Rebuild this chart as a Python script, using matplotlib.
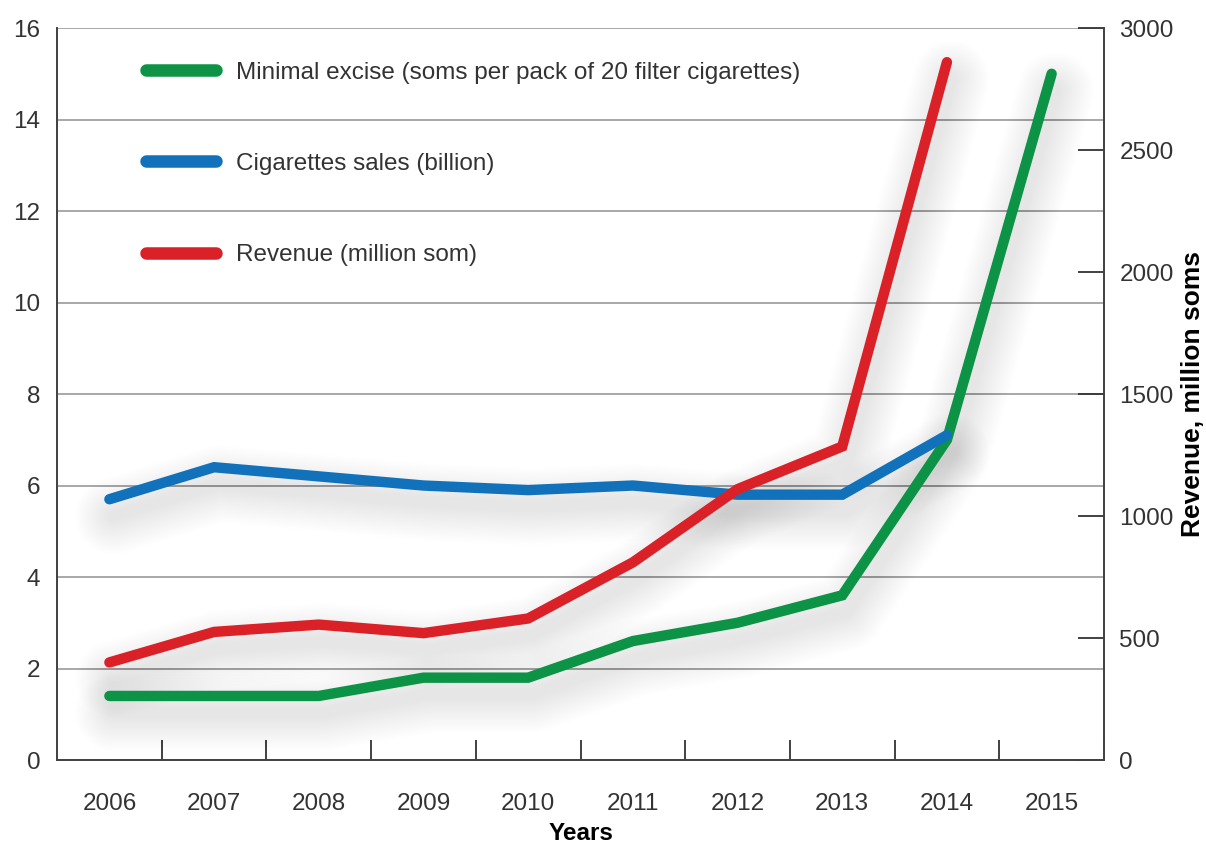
import matplotlib
matplotlib.use("Agg")
import matplotlib.pyplot as plt
import matplotlib.patheffects as pe
from matplotlib.lines import Line2D

# values per year
years = ["2006", "2007", "2008", "2009", "2010", "2011", "2012", "2013", "2014", "2015"]
excise = [1.4, 1.4, 1.4, 1.8, 1.8, 2.6, 3.0, 3.6, 7.0, 15.0]
sales = [5.7, 6.4, 6.2, 6.0, 5.9, 6.0, 5.8, 5.8, 7.1]
revenue = [400, 525, 555, 520, 580, 810, 1110, 1285, 2860]

GREEN = "#0d9345"
BLUE = "#1172bb"
RED = "#da2128"
TXT = "#333333"
LW = 7.5
FS = 17.5

plt.rcParams["font.family"] = ["Liberation Sans", "DejaVu Sans"]
plt.rcParams["text.color"] = TXT

fig = plt.figure(figsize=(12.06, 8.47), dpi=100)
ax = fig.add_axes([0.0473, 0.1027, 0.8681, 0.8642])
ax2 = ax.twinx()

ax.set_xlim(-0.5, len(years) - 0.5)
ax.set_ylim(0, 16)
ax2.set_ylim(0, 3000)


def soft_shadow(x, y, transform):
    # stack of wide translucent strokes, shifted down, gives a blurry shadow
    effects = [pe.Stroke(offset=(3, -12), linewidth=LW + w, foreground="black", alpha=0.005)
               for w in range(0, 50, 2)]
    ax.plot(x, y, color="none", transform=transform, zorder=1.5,
            solid_capstyle="round", solid_joinstyle="round", path_effects=effects)


xs = list(range(len(years)))
series = [
    (xs[:len(excise)], excise, GREEN, ax.transData),
    (xs[:len(sales)], sales, BLUE, ax.transData),
    (xs[:len(revenue)], revenue, RED, ax2.transData),
]
for x, y, c, tr in series:
    soft_shadow(x, y, tr)
for x, y, c, tr in series:
    ax.plot(x, y, color=c, lw=LW, transform=tr, zorder=3,
            solid_capstyle="round", solid_joinstyle="miter")

# grid + frame
ax.set_yticks(range(0, 17, 2))
ax.grid(axis="y", color="#9a9a9a", lw=1.2, zorder=0)
ax.set_axisbelow(True)
ax.spines["top"].set_visible(False)
ax2.spines["top"].set_visible(False)
for a in (ax, ax2):
    for s in ["left", "bottom", "right"]:
        a.spines[s].set_color("#444444")
        a.spines[s].set_linewidth(1.3)

ax.tick_params(axis="y", length=0, pad=12, labelsize=FS, labelcolor=TXT)
ax2.set_yticks(range(0, 3001, 500))
ax2.tick_params(axis="y", direction="in", length=19, width=1.3, color="#333333",
                pad=11, labelsize=FS, labelcolor=TXT)

ax.set_xticks(xs)
ax.set_xticklabels(years)
ax.set_xticks([i + 0.5 for i in xs], minor=True)
ax.tick_params(axis="x", which="major", length=0, pad=24, labelsize=FS, labelcolor=TXT)
ax.tick_params(axis="x", which="minor", direction="in", length=14.5, width=1.3, color="#333333")

ax.set_xlabel("Years", fontsize=FS, fontweight="bold", labelpad=5)
ax2.set_ylabel("Revenue, million soms", fontsize=19, fontweight="bold", labelpad=5)

handles = [
    Line2D([], [], color=GREEN, lw=9, solid_capstyle="round"),
    Line2D([], [], color=BLUE, lw=9, solid_capstyle="round"),
    Line2D([], [], color=RED, lw=9, solid_capstyle="round"),
]
labels = [
    "Minimal excise (soms per pack of 20 filter cigarettes)",
    "Cigarettes sales (billion)",
    "Revenue (million som)",
]
leg = ax2.legend(handles, labels, loc="upper left", bbox_to_anchor=(0.085, 0.954),
                 frameon=False, fontsize=FS, handlelength=2.88, handletextpad=0.82,
                 labelspacing=2.85, borderpad=0, borderaxespad=0)
for t in leg.get_texts():
    t.set_color(TXT)

fig.savefig("out.png", dpi=100)
